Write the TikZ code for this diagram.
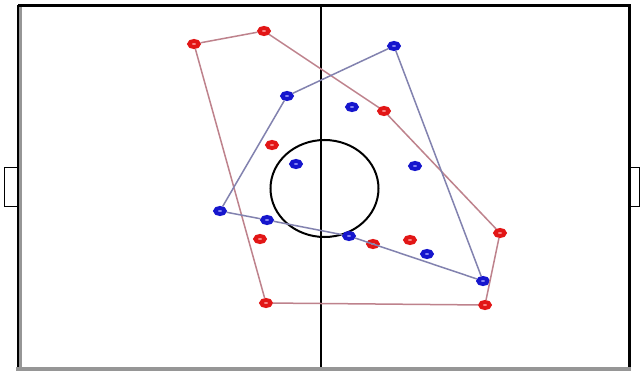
\documentclass[tikz,border=0pt]{standalone}
\usetikzlibrary{shapes.geometric}
\definecolor{pred}{RGB}{226,22,22}
\definecolor{pblue}{RGB}{22,22,205}
\definecolor{rline}{RGB}{190,130,140}
\definecolor{bline}{RGB}{130,130,175}
\definecolor{fgrey}{RGB}{150,150,150}
\tikzset{
  redp/.style={ellipse, draw=pred, line width=4pt, fill=red!35!white, minimum width=9.5pt, minimum height=6pt, inner sep=0pt},
  bluep/.style={ellipse, draw=pblue, line width=4pt, fill=blue!35!white, minimum width=9.5pt, minimum height=6pt, inner sep=0pt},
  redline/.style={draw=rline, line width=1.5pt},
  blueline/.style={draw=bline, line width=1.5pt},
  fieldline/.style={draw=black, line width=2.2pt}
}
\begin{document}
\begin{tikzpicture}[x=1pt,y=-1pt]
\useasboundingbox[fill=white] (0,0) rectangle (641,372);
% field
\draw[fgrey, line width=3pt] (20.5,6) -- (20.5,368);
\draw[fgrey, line width=4pt] (16,368.5) -- (631,368.5);
\draw[fieldline] (18,5.5) -- (629.5,5.5) -- (629.5,367);
\draw[fieldline] (18,4.5) -- (18,367);
\draw[fieldline] (321,5) -- (321,367);
\draw[fieldline, line width=1.6pt] (18,167.5) -- (4.5,167.5) -- (4.5,206.5) -- (18,206.5);
\draw[fieldline, line width=1.6pt] (630,167.5) -- (639.5,167.5) -- (639.5,206.5) -- (630,206.5);
\draw[black, line width=2pt] (324.5,188.5) ellipse [x radius=54, y radius=48.5];
% players
\node[redp] (r1) at (194,44) {};
\node[redp] (r2) at (264,31) {};
\node[redp] (r3) at (384,111) {};
\node[redp] (r4) at (272,145) {};
\node[redp] (r5) at (260,239) {};
\node[redp] (r6) at (266,303) {};
\node[redp] (r7) at (373,244) {};
\node[redp] (r8) at (410,240) {};
\node[redp] (r9) at (500,233) {};
\node[redp] (r10) at (485,305) {};
\node[bluep] (b1) at (394,46) {};
\node[bluep] (b2) at (287,96) {};
\node[bluep] (b3) at (352,107) {};
\node[bluep] (b4) at (296,164) {};
\node[bluep] (b5) at (415,166) {};
\node[bluep] (b6) at (220,211) {};
\node[bluep] (b7) at (267,220) {};
\node[bluep] (b8) at (349,236) {};
\node[bluep] (b9) at (427,254) {};
\node[bluep] (b10) at (483,281) {};
% hulls
\draw[redline] (r1) -- (r2);
\draw[redline] (r2) -- (r3);
\draw[redline] (r3) -- (r9);
\draw[redline] (r9) -- (r10);
\draw[redline] (r10) -- (r6);
\draw[redline] (r6) -- (r1);
\draw[blueline] (b1) -- (b10);
\draw[blueline] (b10) -- (b8);
\draw[blueline] (b8) -- (b7);
\draw[blueline] (b7) -- (b6);
\draw[blueline] (b6) -- (b2);
\draw[blueline] (b2) -- (b1);
\end{tikzpicture}
\end{document}
